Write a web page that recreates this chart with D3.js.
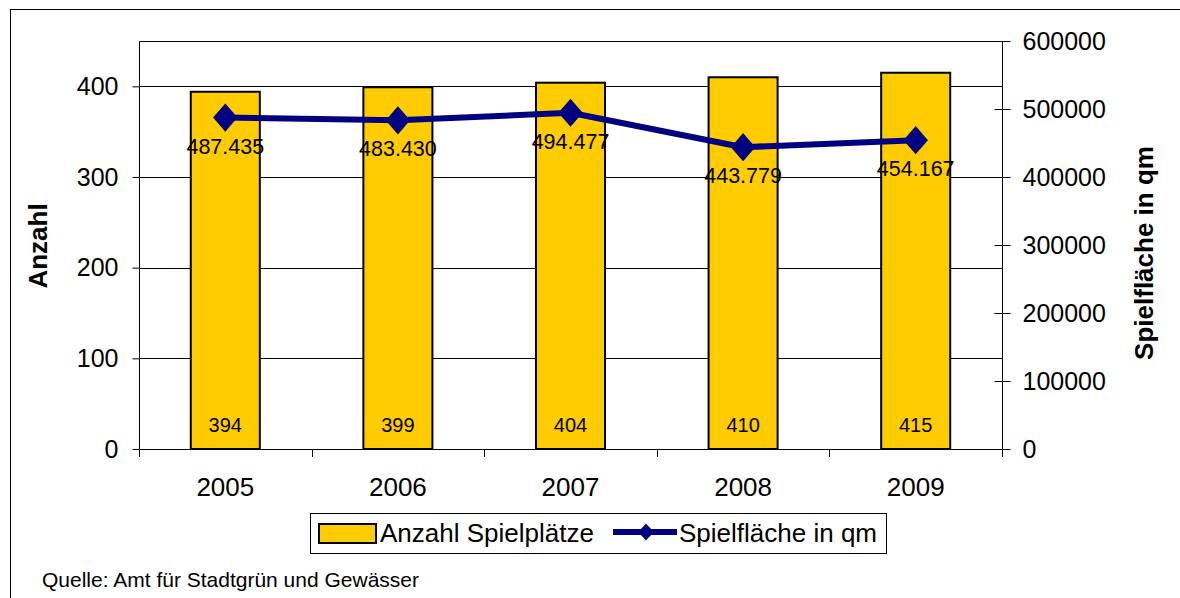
<!DOCTYPE html>
<html>
<head>
<meta charset="utf-8">
<script src="https://cdn.jsdelivr.net/npm/d3@7"></script>
<style>
  body { margin: 0; background: #fff; }
  svg { font-family: "Liberation Sans", Arial, sans-serif; }
</style>
</head>
<body>
<svg id="chart" width="1180" height="598"></svg>
<script>
// Chart data
const years = ['2005', '2006', '2007', '2008', '2009'];
const spielplaetze = [394, 399, 404, 410, 415];
const spielflaeche = [487435, 483430, 494477, 443779, 454167];
const leftTicks = [0, 100, 200, 300, 400];
const rightTicks = [0, 100000, 200000, 300000, 400000, 500000, 600000];

const svg = d3.select('#chart');
const margin = { left: 139, top: 41, right: 1002, bottom: 449 };

// Outer frame
svg.append('rect')
    .attr('x', 10.5).attr('y', 9.5)
    .attr('width', 1180).attr('height', 600)
    .attr('fill', 'none').attr('stroke', '#000');

const x = d3.scaleBand().domain(years).range([margin.left, margin.right]);
const yLeft = d3.scaleLinear().domain([0, 450]).range([margin.bottom, margin.top]);
const yRight = d3.scaleLinear().domain([0, 600000]).range([margin.bottom, margin.top]);

// Gridlines
svg.append('g')
    .selectAll('line')
    .data(leftTicks.slice(1))
    .enter().append('line')
    .attr('x1', margin.left).attr('x2', margin.right)
    .attr('y1', d => Math.round(yLeft(d)) + 0.5)
    .attr('y2', d => Math.round(yLeft(d)) + 0.5)
    .attr('stroke', '#000');

// Plot frame (top + sides)
svg.append('path')
    .attr('d', `M${margin.left + 0.5},${margin.bottom}V${margin.top + 0.5}H${margin.right + 0.5}V${margin.bottom}`)
    .attr('fill', 'none').attr('stroke', '#000');

// Bars
const barW = x.bandwidth() * 0.4;
svg.append('g')
    .selectAll('rect')
    .data(spielplaetze)
    .enter().append('rect')
    .attr('x', (d, i) => x(years[i]) + x.bandwidth() / 2 - barW / 2)
    .attr('y', d => yLeft(d))
    .attr('width', barW)
    .attr('height', d => yLeft(0) - yLeft(d))
    .attr('fill', '#FFCC00')
    .attr('stroke', '#000')
    .attr('stroke-width', 2);

// Bar value labels
svg.append('g')
    .selectAll('text')
    .data(spielplaetze)
    .enter().append('text')
    .attr('x', (d, i) => x(years[i]) + x.bandwidth() / 2)
    .attr('y', 432)
    .attr('text-anchor', 'middle')
    .style('font-size', '20px')
    .text(d => d);

// Left axis
const leftAxis = d3.axisLeft(yLeft).tickValues(leftTicks).tickSize(7).tickPadding(14);
const gL = svg.append('g').attr('transform', `translate(${margin.left + 0.5},0)`).call(leftAxis);
gL.select('.domain').remove();
gL.selectAll('text').style('font-size', '25px').attr('fill', '#000').attr('font-family', null);

// Right axis
const rightAxis = d3.axisRight(yRight).tickValues(rightTicks).tickSize(8).tickPadding(12)
    .tickFormat(d3.format('d'));
const gR = svg.append('g').attr('transform', `translate(${margin.right + 0.5},0)`).call(rightAxis);
gR.select('.domain').remove();
gR.selectAll('.tick line').attr('x1', -8);
gR.selectAll('text').style('font-size', '25px').attr('fill', '#000').attr('font-family', null);

// Bottom axis
svg.append('line')
    .attr('x1', margin.left).attr('x2', margin.right + 8)
    .attr('y1', margin.bottom + 0.5).attr('y2', margin.bottom + 0.5)
    .attr('stroke', '#000');
svg.append('g')
    .selectAll('line')
    .data(years.concat(['end']))
    .enter().append('line')
    .attr('x1', (d, i) => Math.round(margin.left + i * x.step()) + 0.5)
    .attr('x2', (d, i) => Math.round(margin.left + i * x.step()) + 0.5)
    .attr('y1', margin.bottom).attr('y2', margin.bottom + 8)
    .attr('stroke', '#000');
svg.append('g')
    .selectAll('text')
    .data(years)
    .enter().append('text')
    .attr('x', d => x(d) + x.bandwidth() / 2)
    .attr('y', 496)
    .attr('text-anchor', 'middle')
    .style('font-size', '26px')
    .text(d => d);

// Line series
const line = d3.line()
    .x((d, i) => x(years[i]) + x.bandwidth() / 2)
    .y(d => yRight(d));
svg.append('path')
    .datum(spielflaeche)
    .attr('d', line)
    .attr('fill', 'none')
    .attr('stroke', '#000080')
    .attr('stroke-width', 6)
    .attr('stroke-linejoin', 'round');

const diamond = d3.symbol().type(d3.symbolDiamond).size(230);
svg.append('g')
    .selectAll('path')
    .data(spielflaeche)
    .enter().append('path')
    .attr('d', diamond)
    .attr('transform', (d, i) => `translate(${x(years[i]) + x.bandwidth() / 2},${yRight(d)}) scale(1.5,1)`)
    .attr('fill', '#000080');

// Line value labels
const fmt = d => d3.format(',')(d).replace(/,/g, '.');
svg.append('g')
    .selectAll('text')
    .data(spielflaeche)
    .enter().append('text')
    .attr('x', (d, i) => x(years[i]) + x.bandwidth() / 2)
    .attr('y', d => yRight(d) + 36)
    .attr('text-anchor', 'middle')
    .style('font-size', '21.5px')
    .text(fmt);

// Axis titles
svg.append('text')
    .attr('transform', 'translate(47,246) rotate(-90)')
    .attr('text-anchor', 'middle')
    .style('font-size', '26px')
    .style('font-weight', 'bold')
    .text('Anzahl');
svg.append('text')
    .attr('transform', 'translate(1153,253) rotate(-90)')
    .attr('text-anchor', 'middle')
    .style('font-size', '26px')
    .style('font-weight', 'bold')
    .text('Spielfläche in qm');

// Legend
const legend = svg.append('g');
legend.append('rect')
    .attr('x', 310.5).attr('y', 513.5).attr('width', 576).attr('height', 40)
    .attr('fill', '#fff').attr('stroke', '#000');
legend.append('rect')
    .attr('x', 319).attr('y', 524).attr('width', 57).attr('height', 19)
    .attr('fill', '#FFCC00').attr('stroke', '#000').attr('stroke-width', 2);
legend.append('text')
    .attr('x', 380).attr('y', 542)
    .style('font-size', '26px')
    .text('Anzahl Spielplätze');
legend.append('line')
    .attr('x1', 613).attr('x2', 677).attr('y1', 532).attr('y2', 532)
    .attr('stroke', '#000080').attr('stroke-width', 6);
legend.append('path')
    .attr('d', d3.symbol().type(d3.symbolDiamond).size(85))
    .attr('transform', 'translate(646,532) scale(1.6,1)')
    .attr('fill', '#000080');
legend.append('text')
    .attr('x', 679).attr('y', 542)
    .style('font-size', '26px')
    .text('Spielfläche in qm');

// Source
svg.append('text')
    .attr('x', 42).attr('y', 587)
    .style('font-size', '21px')
    .text('Quelle: Amt für Stadtgrün und Gewässer');
</script>
</body>
</html>
